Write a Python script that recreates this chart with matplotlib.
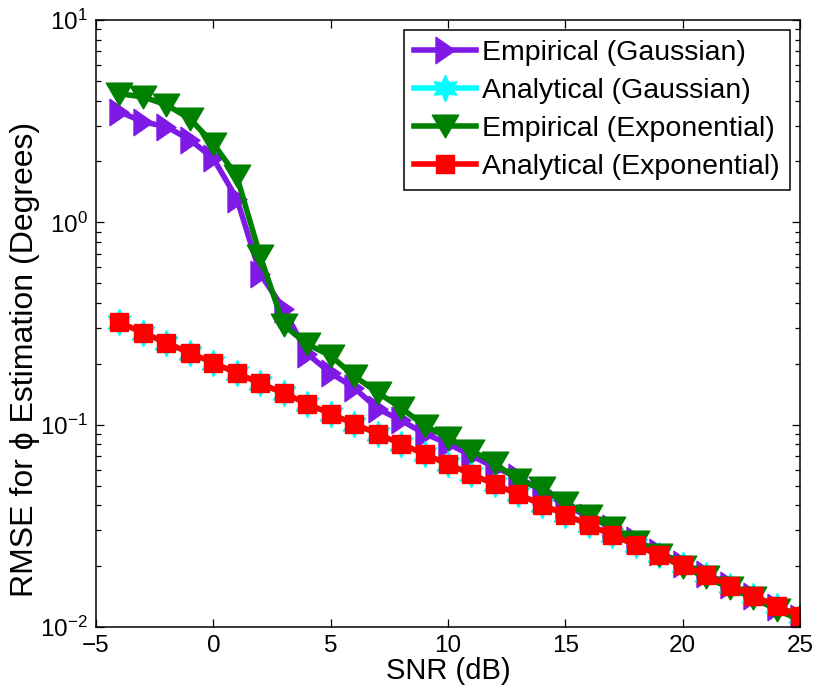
import matplotlib
matplotlib.use("Agg")
import matplotlib.pyplot as plt
from matplotlib.path import Path
from matplotlib.ticker import LogLocator, NullFormatter

plt.rcParams['font.family'] = ['Liberation Sans', 'DejaVu Sans']
plt.rcParams['mathtext.fontset'] = 'custom'
plt.rcParams['mathtext.rm'] = 'Liberation Sans'

snr = [-4, -3, -2, -1, 0, 1, 2, 3, 4, 5, 6, 7, 8, 9, 10, 11, 12, 13, 14, 15,
       16, 17, 18, 19, 20, 21, 22, 23, 24, 25]

emp_gauss = [3.52, 3.14, 2.97, 2.56, 2.07, 1.31, 0.555, 0.373, 0.224, 0.18,
             0.152, 0.12, 0.105, 0.0903, 0.0806, 0.0703, 0.0614, 0.055, 0.047, 0.040,
             0.035, 0.031, 0.0268, 0.0235, 0.0205, 0.0183, 0.0162, 0.0142, 0.0125, 0.0111]

ana_gauss = [0.320, 0.285, 0.254, 0.226, 0.202, 0.180, 0.160, 0.143, 0.127, 0.113,
             0.101, 0.0901, 0.0803, 0.0716, 0.0638, 0.0569, 0.0507, 0.0452, 0.0403, 0.0359,
             0.0320, 0.0285, 0.0254, 0.0226, 0.0202, 0.0180, 0.0160, 0.0143, 0.0127, 0.0113]

emp_exp = [4.32, 4.17, 3.81, 3.25, 2.45, 1.69, 0.68, 0.31, 0.25, 0.219,
           0.174, 0.144, 0.121, 0.0989, 0.0863, 0.0745, 0.0643, 0.053, 0.0484, 0.041,
           0.0355, 0.031, 0.0262, 0.0228, 0.0198, 0.0176, 0.0156, 0.0139, 0.0122, 0.0108]

ana_exp = [0.320, 0.285, 0.254, 0.226, 0.202, 0.180, 0.160, 0.143, 0.127, 0.113,
           0.101, 0.0901, 0.0803, 0.0716, 0.0638, 0.0569, 0.0507, 0.0452, 0.0403, 0.0359,
           0.0320, 0.0285, 0.0254, 0.0226, 0.0202, 0.0180, 0.0160, 0.0143, 0.0127, 0.0113]

labels = ['Empirical (Gaussian)', 'Analytical (Gaussian)',
          'Empirical (Exponential)', 'Analytical (Exponential)']

# marker shapes similar to MATLAB's
tri_right = Path([(-0.36, 0.5), (0.36, 0.0), (-0.36, -0.5), (-0.36, 0.5)],
                 [Path.MOVETO, Path.LINETO, Path.LINETO, Path.CLOSEPOLY])
tri_down = Path([(-0.5, 0.43), (0.5, 0.43), (0.0, -0.43), (-0.5, 0.43)],
                [Path.MOVETO, Path.LINETO, Path.LINETO, Path.CLOSEPOLY])
hexagram = (6, 1, 0)

fig = plt.figure(figsize=(8.14, 6.90), dpi=100)
ax = fig.add_axes([96/814, 1 - 627/690, (800-96)/814, (627-20)/690])

lw = 4.0
ax.plot(snr, emp_gauss, color='#7F19E6', lw=lw, marker=tri_right, ms=19, mew=1,
        mec='#7F19E6', mfc='#7F19E6', label=labels[0])
ax.plot(snr, ana_gauss, color='#00FFFF', lw=lw, marker=hexagram, ms=19, mew=1,
        mec='#00FFFF', mfc='#00FFFF', label=labels[1])
ax.plot(snr, emp_exp, color='#008000', lw=lw, marker=tri_down, ms=19, mew=1,
        mec='#008000', mfc='#008000', label=labels[2])
ax.plot(snr, ana_exp, color='#FF0000', lw=lw, marker='s', ms=13, mew=1,
        mec='#FF0000', mfc='#FF0000', label=labels[3])

ax.set_yscale('log')
ax.set_xlim(-5, 25)
ax.set_ylim(1e-2, 1e1)
ax.set_xticks([-5, 0, 5, 10, 15, 20, 25])
ax.set_xticklabels(['\u22125', '0', '5', '10', '15', '20', '25'])
ax.yaxis.set_major_locator(LogLocator(base=10, numticks=10))
ax.yaxis.set_minor_locator(LogLocator(base=10, subs=range(2, 10), numticks=20))
ax.yaxis.set_minor_formatter(NullFormatter())
ax.tick_params(which='both', direction='in', top=True, right=True, labelsize=17.5)
ax.tick_params(which='major', length=6, width=0.9)
ax.tick_params(which='minor', length=3.5, width=0.9)
ax.tick_params(axis='x', pad=6)
ax.tick_params(axis='y', pad=6)
for s in ax.spines.values():
    s.set_linewidth(1.1)

ax.set_xlabel('SNR (dB)', fontsize=21, labelpad=0)
ax.set_ylabel('RMSE for \u03d5 Estimation (Degrees)', fontsize=23)
ax.yaxis.set_label_coords(-0.08, 0.44)

leg = ax.legend(loc='upper right', fontsize=20.5, frameon=True, fancybox=False,
                edgecolor='black', framealpha=1, numpoints=1, handlelength=2.2,
                borderaxespad=0.36, labelspacing=0.42, handletextpad=0.2, borderpad=0.35)
leg.get_frame().set_linewidth(1.1)

fig.savefig('out.png', dpi=100)
